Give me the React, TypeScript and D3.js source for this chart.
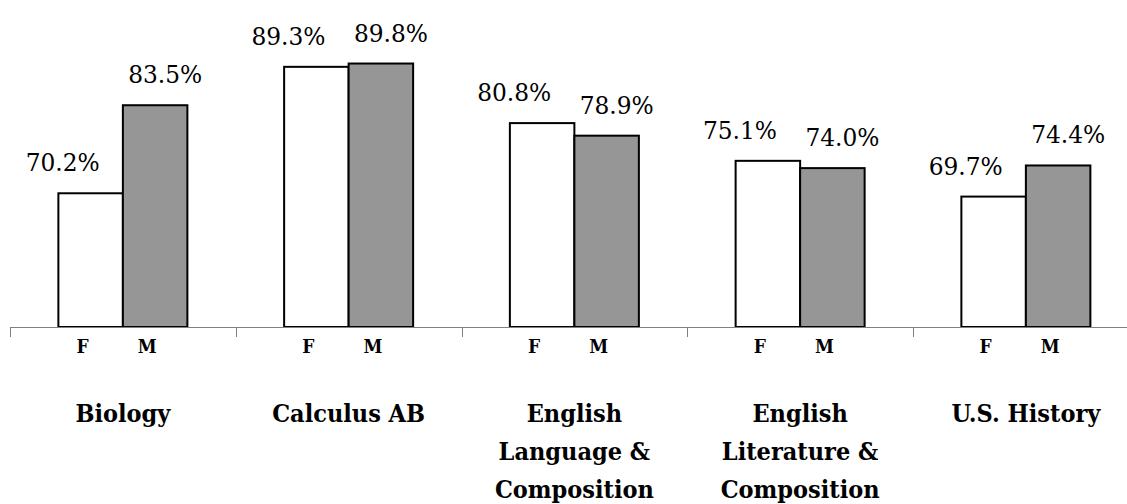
import React, { useEffect, useRef } from 'react';
import * as d3 from 'd3';

// subjects and pass rates by sex (percent)
const subjects = [
  ['Biology'],
  ['Calculus AB'],
  ['English', 'Language &', 'Composition'],
  ['English', 'Literature &', 'Composition'],
  ['U.S. History'],
];
const groups = ['F', 'M'];
const femaleRates = [70.2, 89.3, 80.8, 75.1, 69.7];
const maleRates = [83.5, 89.8, 78.9, 74.0, 74.4];

const width = 1127;
const height = 504;

export default function App() {
  const svgRef = useRef<SVGSVGElement>(null);

  useEffect(() => {
    if (!svgRef.current) return;
    const svg = d3.select(svgRef.current);
    svg.selectAll('*').remove();

    const baseY = 327;
    const left = 10;
    const step = 225.75;

    const keys = subjects.map(s => s.join(' '));
    const x = d3.scaleBand<string>()
      .domain(keys)
      .range([left, left + step * keys.length])
      .padding(0);

    const xInner = d3.scaleBand<string>()
      .domain(groups)
      .range([0, x.bandwidth()])
      .paddingInner(0)
      .paddingOuter(0.75);

    const y = d3.scaleLinear()
      .domain([50, 100])
      .range([baseY, baseY - 50 * 6.62]);

    const rows = keys.map((k, i) => ({
      key: k,
      lines: subjects[i],
      values: [
        { g: 'F', v: femaleRates[i] },
        { g: 'M', v: maleRates[i] },
      ],
    }));

    // no Times here, condensed DejaVu Serif is the closest fit
    const font = 'DejaVu Serif Condensed, DejaVu Serif, serif';

    const cat = svg.append('g')
      .attr('font-family', font)
      .attr('font-stretch', 'condensed')
      .selectAll('g')
      .data(rows)
      .join('g')
      .attr('transform', d => `translate(${x(d.key)},0)`);

    // bars
    cat.selectAll('rect')
      .data(d => d.values)
      .join('rect')
      .attr('x', d => xInner(d.g)!)
      .attr('y', d => y(d.v))
      .attr('width', xInner.bandwidth())
      .attr('height', d => baseY - y(d.v))
      .attr('fill', d => d.g === 'F' ? '#ffffff' : '#969696')
      .attr('stroke', '#000')
      .attr('stroke-width', 2);

    // value labels (F pushed left, M pushed right, like the original)
    cat.selectAll('text.val')
      .data(d => d.values)
      .join('text')
      .attr('class', 'val')
      .attr('x', d => xInner(d.g)! + xInner.bandwidth() / 2 + (d.g === 'F' ? -28 : 10))
      .attr('y', d => y(d.v) - 22)
      .attr('text-anchor', 'middle')
      .attr('font-size', 25)
      .attr('textLength', 74)
      .attr('lengthAdjust', 'spacingAndGlyphs')
      .text(d => `${d.v.toFixed(1)}%`);

    // F / M labels
    cat.selectAll('text.grp')
      .data(groups)
      .join('text')
      .attr('class', 'grp')
      .attr('x', g => xInner(g)! + xInner.bandwidth() / 2 - 8)
      .attr('y', baseY + 26)
      .attr('text-anchor', 'middle')
      .attr('font-size', 19)
      .attr('font-weight', 'bold')
      .text(g => g);

    // subject labels
    cat.append('text')
      .attr('text-anchor', 'middle')
      .attr('font-size', 25)
      .attr('font-weight', 'bold')
      .selectAll('tspan')
      .data(d => d.lines)
      .join('tspan')
      .attr('x', x.bandwidth() / 2)
      .attr('y', (_, i) => 422 + i * 38)
      .text(l => l);

    // axis line with ticks at category boundaries
    const axis = svg.append('g');
    axis.append('line')
      .attr('x1', left)
      .attr('x2', width)
      .attr('y1', baseY + 0.5)
      .attr('y2', baseY + 0.5)
      .attr('stroke', '#808080')
      .attr('stroke-width', 1);
    axis.selectAll('line.tick')
      .data(keys)
      .join('line')
      .attr('class', 'tick')
      .attr('x1', d => Math.round(x(d)!) + 0.5)
      .attr('x2', d => Math.round(x(d)!) + 0.5)
      .attr('y1', baseY)
      .attr('y2', baseY + 10)
      .attr('stroke', '#808080')
      .attr('stroke-width', 1);
  }, []);

  return (
    <svg
      ref={svgRef}
      width={width}
      height={height}
      style={{ position: 'absolute', left: 0, top: 0, background: '#fff' }}
    />
  );
}
